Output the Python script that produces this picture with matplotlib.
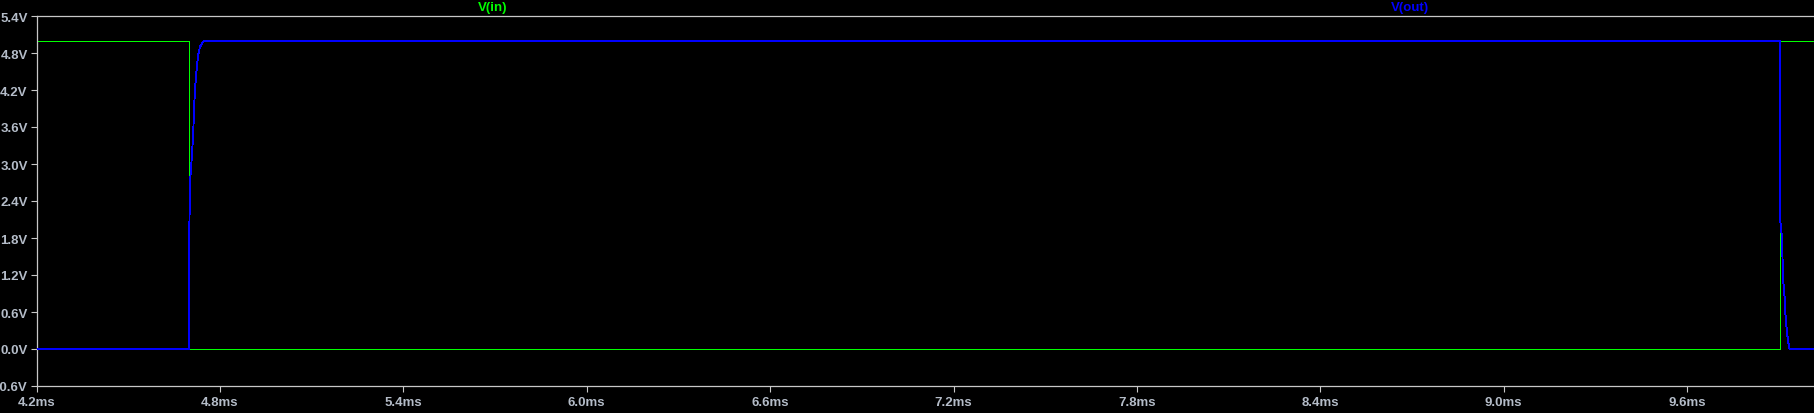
import matplotlib
matplotlib.use("Agg")
import matplotlib.pyplot as plt
import numpy as np

# ---- data (time in ms, voltage in V) ----
vin_t = [4.2, 4.700, 4.700, 9.905, 9.905, 10.02]
vin_v = [5.0, 5.0, 0.0, 0.0, 5.0, 5.0]

vout_t = [4.2, 4.700, 4.700, 4.7023, 4.7066, 4.7098, 4.7130, 4.7164, 4.7210,
          4.7242, 4.7275, 4.7308, 4.7350, 4.7406, 4.7458, 4.7514,
          9.905, 9.905, 9.9099, 9.9142, 9.9187, 9.9214, 9.9263, 9.9305,
          9.9351, 10.02]
vout_v = [0.0, 0.0, 1.95, 2.71, 3.00, 3.25, 3.55, 4.00, 4.38,
          4.55, 4.71, 4.82, 4.90, 4.95, 4.98, 5.0,
          5.0, 2.06, 1.82, 1.11, 0.85, 0.57, 0.28, 0.12,
          0.0, 0.0]

yticks = [-0.6, 0.0, 0.6, 1.2, 1.8, 2.4, 3.0, 3.6, 4.2, 4.8, 5.4]
xticks = [4.2, 4.8, 5.4, 6.0, 6.6, 7.2, 7.8, 8.4, 9.0, 9.6]
series_names = ["V(in)", "V(out)"]

W, H = 1814, 414
fig = plt.figure(figsize=(W / 100, H / 100), dpi=100, facecolor="black")
left, right, top, bottom = 36.5, 1814, 17, 387
ax = fig.add_axes([left / W, 1 - bottom / H, (right - left) / W, (bottom - top) / H])
ax.set_facecolor("black")

ax.plot(vin_t, vin_v, color="#00ff00", lw=0.65, antialiased=False, zorder=2)
ax.plot(vout_t, vout_v, color="#0000ff", lw=0.65, antialiased=False, zorder=3)

ax.set_xlim(4.2, 10.015)
ax.set_ylim(-0.6, 5.4)

txt_color = "#b4bcc8"
spine_color = "#c8c8c8"
ax.set_yticks(yticks)
ax.set_yticklabels([f"{v:.1f}V" for v in yticks])
ax.set_xticks(xticks)
ax.set_xticklabels([f"{v:.1f}ms" for v in xticks])
ax.tick_params(axis="both", colors=spine_color, length=4.3, width=0.8,
               direction="out", labelcolor=txt_color)
ax.tick_params(axis="y", pad=2)
ax.tick_params(axis="x", pad=3)
for lab in ax.get_xticklabels() + ax.get_yticklabels():
    lab.set_fontfamily("Liberation Sans")
    lab.set_fontweight("bold")
    lab.set_fontsize(9.5)

for s in ["left", "bottom", "top"]:
    ax.spines[s].set_color(spine_color)
    ax.spines[s].set_linewidth(0.9)
ax.spines["right"].set_visible(False)

fig.text(493 / W, 1 - 8.5 / H, series_names[0], color="#00ff00", ha="center", va="center",
         fontfamily="Liberation Sans", fontweight="bold", fontsize=9.5)
fig.text(1410 / W, 1 - 8.5 / H, series_names[1], color="#0000ff", ha="center", va="center",
         fontfamily="Liberation Sans", fontweight="bold", fontsize=9.5)

fig.savefig("out.png", dpi=100, facecolor="black")
